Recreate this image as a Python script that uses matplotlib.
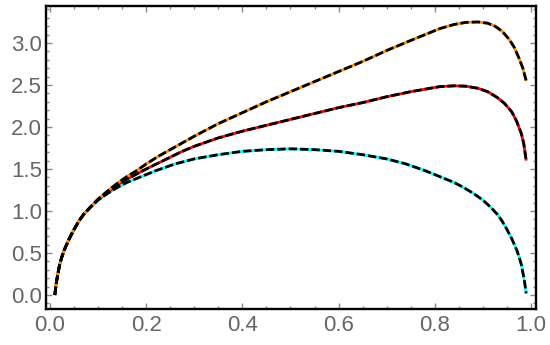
import matplotlib
matplotlib.use("Agg")
import matplotlib.pyplot as plt
from matplotlib.ticker import MultipleLocator

# ---- data ----
cyan_x = [0.010, 0.013, 0.016, 0.02, 0.025, 0.03, 0.04, 0.05, 0.06, 0.07, 0.083, 0.10,
          0.12, 0.14, 0.16, 0.19, 0.22, 0.26, 0.30, 0.35, 0.40, 0.45, 0.50,
          0.55, 0.60, 0.65, 0.70, 0.74, 0.78, 0.81, 0.84, 0.86, 0.88, 0.90, 0.917,
          0.93, 0.94, 0.95, 0.96, 0.97, 0.975, 0.98, 0.984, 0.987, 0.99]
cyan_y = [0.00, 0.14, 0.24, 0.36, 0.46, 0.54, 0.67, 0.78, 0.88, 0.96, 1.04, 1.13,
          1.21, 1.28, 1.34, 1.41, 1.48, 1.56, 1.62, 1.67, 1.71, 1.73, 1.74,
          1.73, 1.71, 1.67, 1.62, 1.56, 1.48, 1.41, 1.34, 1.28, 1.21, 1.13, 1.04,
          0.96, 0.88, 0.78, 0.67, 0.54, 0.46, 0.36, 0.24, 0.14, 0.02]

red_x = [0.010, 0.013, 0.016, 0.02, 0.025, 0.03, 0.04, 0.05, 0.06, 0.07, 0.083, 0.10,
         0.12, 0.14, 0.16, 0.18, 0.20, 0.225, 0.25, 0.275, 0.30, 0.35, 0.40, 0.45,
         0.50, 0.55, 0.60, 0.65, 0.70, 0.75, 0.78, 0.81, 0.84, 0.865, 0.89, 0.91,
         0.93, 0.945, 0.96, 0.97, 0.98, 0.985, 0.99]
red_y = [0.00, 0.14, 0.24, 0.36, 0.46, 0.54, 0.67, 0.78, 0.88, 0.96, 1.04, 1.14,
         1.22, 1.31, 1.38, 1.44, 1.50, 1.57, 1.64, 1.71, 1.77, 1.87, 1.95, 2.02,
         2.09, 2.16, 2.23, 2.29, 2.36, 2.42, 2.45, 2.48, 2.49, 2.485, 2.46, 2.42,
         2.35, 2.28, 2.18, 2.07, 1.92, 1.80, 1.60]

orange_x = [0.010, 0.013, 0.016, 0.02, 0.025, 0.03, 0.04, 0.05, 0.06, 0.07, 0.083, 0.10,
            0.12, 0.14, 0.16, 0.18, 0.20, 0.225, 0.25, 0.275, 0.30, 0.35, 0.40, 0.45,
            0.50, 0.55, 0.60, 0.65, 0.70, 0.75, 0.78, 0.81, 0.84, 0.865, 0.89, 0.91,
            0.925, 0.94, 0.955, 0.965, 0.975, 0.983, 0.99]
orange_y = [0.00, 0.14, 0.24, 0.36, 0.46, 0.54, 0.67, 0.78, 0.88, 0.96, 1.04, 1.14,
            1.24, 1.33, 1.41, 1.48, 1.56, 1.65, 1.73, 1.81, 1.89, 2.04, 2.17, 2.30,
            2.42, 2.54, 2.66, 2.78, 2.91, 3.03, 3.10, 3.17, 3.22, 3.245, 3.25, 3.235,
            3.20, 3.14, 3.04, 2.95, 2.82, 2.70, 2.55]

x_ticks = [0.0, 0.2, 0.4, 0.6, 0.8, 1.0]
y_ticks = [0.0, 0.5, 1.0, 1.5, 2.0, 2.5, 3.0]

series = [(cyan_x, cyan_y, "#00FFFF"),
          (red_x, red_y, "#FF0000"),
          (orange_x, orange_y, "#FF8C00")]

plt.rcParams['font.family'] = ['Liberation Sans', 'DejaVu Sans']

fig = plt.figure(figsize=(5.5, 3.45), dpi=100)
ax = fig.add_axes([46/550, 1-309.3/345, (536-46)/550, (309.3-6)/345])

lw = 2.0
for xs, ys, c in series:
    ax.plot(xs, ys, color=c, lw=lw, solid_capstyle='butt',
            solid_joinstyle='round', zorder=2)
    ax.plot(xs, ys, color='black', lw=lw, linestyle=(0, (3.0, 1.1)),
            dash_capstyle='butt', dash_joinstyle='round', zorder=3)

ax.set_xlim(-0.0083, 1.0104)
ax.set_ylim(-0.170, 3.44)
ax.set_xticks(x_ticks)
ax.set_yticks(y_ticks)
ax.set_xticklabels([f"{v:.1f}" for v in x_ticks])
ax.set_yticklabels([f"{v:.1f}" for v in y_ticks])
ax.xaxis.set_minor_locator(MultipleLocator(0.05))
ax.yaxis.set_minor_locator(MultipleLocator(0.1))

for s in ax.spines.values():
    s.set_color('black')
    s.set_linewidth(1.7)

ax.tick_params(which='both', direction='in', top=True, right=True,
               color='#888888', labelcolor='#666666', labelsize=16)
ax.tick_params(which='major', length=4.0, width=1.0)
ax.tick_params(which='minor', length=2.0, width=1.0)
ax.tick_params(axis='x', pad=4)
ax.tick_params(axis='y', pad=3)

fig.savefig("out.png", dpi=100)
